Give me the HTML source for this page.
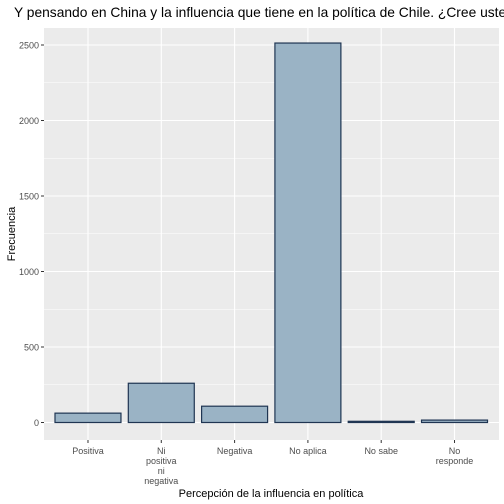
<!DOCTYPE html>
<html><head><meta charset="utf-8"><style>
body{margin:0;background:#fff;}
svg{display:block;font-family:"Liberation Sans",sans-serif;}
</style></head><body>
<svg id="chart" width="504" height="504">
<text x="14" y="17" font-size="13.8" fill="#000">Y pensando en China y la influencia que tiene en la política de Chile. ¿Cree usted que la influencia es…</text>
<rect x="44" y="28" width="455" height="412" fill="#ebebeb"/>
<g id="grid"></g><g id="bars"></g><g id="axes"></g>
<text x="271" y="497" font-size="11" text-anchor="middle" fill="#000">Percepción de la influencia en política</text>
<text transform="translate(15,234) rotate(-90)" font-size="11" text-anchor="middle" fill="#000">Frecuencia</text>
</svg>
<script>
const categories=[["Positiva"],["Ni","positiva","ni","negativa"],["Negativa"],["No aplica"],["No sabe"],["No","responde"]];
const values=[62,260,108,2513,8,16];
const yTicks=[0,500,1000,1500,2000,2500];
const NS="http://www.w3.org/2000/svg";
const L=44,R=498.5,y0=422.5,ppu=(422.5-45)/2500;
const step=(R-L)/6.2;
const x=i=>L+(i+0.6)*step;
const y=v=>y0-v*ppu;
function mk(t,a,p){const e=document.createElementNS(NS,t);for(const k in a)e.setAttribute(k,a[k]);p.appendChild(e);return e;}
const grid=document.getElementById('grid'),bars=document.getElementById('bars'),axes=document.getElementById('axes');
yTicks.forEach((t,i)=>{
 if(i<yTicks.length-1){const m=mk('line',{x1:L,x2:499,y1:y(t+250),y2:y(t+250),stroke:'#fff','stroke-width':0.5},grid);
 
 }
 const g=mk('line',{x1:L,x2:499,y1:y(t),y2:y(t),stroke:'#fff','stroke-width':1.1},grid);
 
 
 mk('line',{x1:L-3,x2:L,y1:y(t),y2:y(t),stroke:'#333'},axes);
 const tx=mk('text',{x:L-5,y:y(t)+3.5,'font-size':9,'text-anchor':'end',fill:'#4d4d4d'},axes);
 tx.textContent=t;
 
 
});
categories.forEach((c,i)=>{
 const g=mk('line',{x1:x(i),x2:x(i),y1:28,y2:440,stroke:'#fff','stroke-width':1.1},grid);
 
 
 const w=step*0.9;
 const b=mk('rect',{x:x(i)-w/2,y:y(values[i]),width:w,height:y0-y(values[i]),fill:'#9ab3c5',stroke:'#1f3552','stroke-width':1.2},bars);
 
 
 mk('line',{x1:x(i),x2:x(i),y1:440,y2:443,stroke:'#333'},axes);
 c.forEach((s,j)=>{const t=mk('text',{x:x(i),y:454+j*10,'font-size':9,'text-anchor':'middle',fill:'#4d4d4d'},axes);
 t.textContent=s;
 
 });
});
</script>
</body></html>
